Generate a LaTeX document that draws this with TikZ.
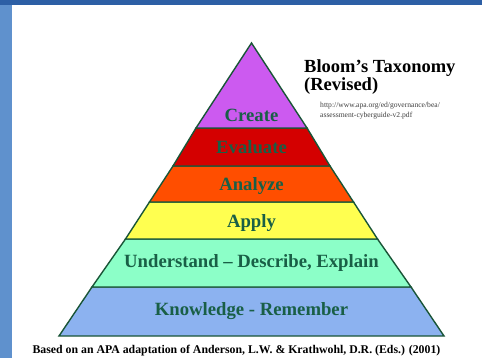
\documentclass[tikz,border=0pt]{standalone}
\usepackage{fontspec}
\setmainfont{Liberation Serif}
\begin{document}
\begin{tikzpicture}[x=1pt,y=-1pt,
  band/.style={draw=outl,line width=1.4pt,line join=miter},
  lvl/.style={text=txtg,font=\fontsize{18.7}{20}\selectfont\bfseries,inner sep=0pt,anchor=center}]
\definecolor{outl}{RGB}{25,85,55}
\definecolor{txtg}{RGB}{25,95,70}
\definecolor{cCreate}{RGB}{204,90,240}
\definecolor{cEval}{RGB}{212,0,0}
\definecolor{cAnal}{RGB}{255,78,0}
\definecolor{cApply}{RGB}{255,255,80}
\definecolor{cUnd}{RGB}{140,255,200}
\definecolor{cKnow}{RGB}{140,178,240}
\definecolor{bordA}{RGB}{45,95,165}
\definecolor{bordB}{RGB}{95,145,205}
\useasboundingbox (0,0) rectangle (482,358);
% background frame
\fill[bordB] (0,0) rectangle (12,358);
\fill[bordA] (0,0) rectangle (482,5);
\fill[white] (12,5) rectangle (482,358);
% pyramid bands
\coordinate (apex) at (251.5,43);
\filldraw[band,fill=cKnow]   (92,287) -- (411,287) -- (444,336) -- (59,336) -- cycle;
\filldraw[band,fill=cUnd]    (125.5,239) -- (377.5,239) -- (411,287) -- (92,287) -- cycle;
\filldraw[band,fill=cApply]  (149.5,202) -- (353.5,202) -- (377.5,239) -- (125.5,239) -- cycle;
\filldraw[band,fill=cAnal]   (173,166) -- (330,166) -- (353.5,202) -- (149.5,202) -- cycle;
\filldraw[band,fill=cEval]   (196,128) -- (307,128) -- (330,166) -- (173,166) -- cycle;
\filldraw[band,fill=cCreate] (apex) -- (307,128) -- (196,128) -- cycle;
% labels
\node[lvl] (create) at (251.5,115) {Create};
\node[lvl] (eval) at (251.5,147) {Evaluate};
\node[lvl] (anal) at (251.5,186) {Analyze};
\node[lvl] (apply) at (251.5,223) {Apply};
\node[lvl] (und) at (251.5,263) {Understand – Describe, Explain};
\node[lvl] (know) at (251.5,311) {Knowledge - Remember};
% title
\node[anchor=north west,inner sep=0pt,align=left,font=\fontsize{18.5}{18.5}\selectfont\bfseries] (title) at (304,59) {Bloom’s Taxonomy\\(Revised)};
\node[anchor=north west,inner sep=0pt,align=left,text=black!75,font=\fontsize{7.6}{10}\selectfont] (url) at (320,102) {http://www.apa.org/ed/governance/bea/\\assessment-cyberguide-v2.pdf};
% caption
\node[inner sep=0pt,font=\fontsize{11.8}{12}\selectfont\bfseries] (cap) at (236.5,351) {Based on an APA adaptation of Anderson, L.W. \& Krathwohl, D.R. (Eds.) (2001)};
\end{tikzpicture}
\end{document}
